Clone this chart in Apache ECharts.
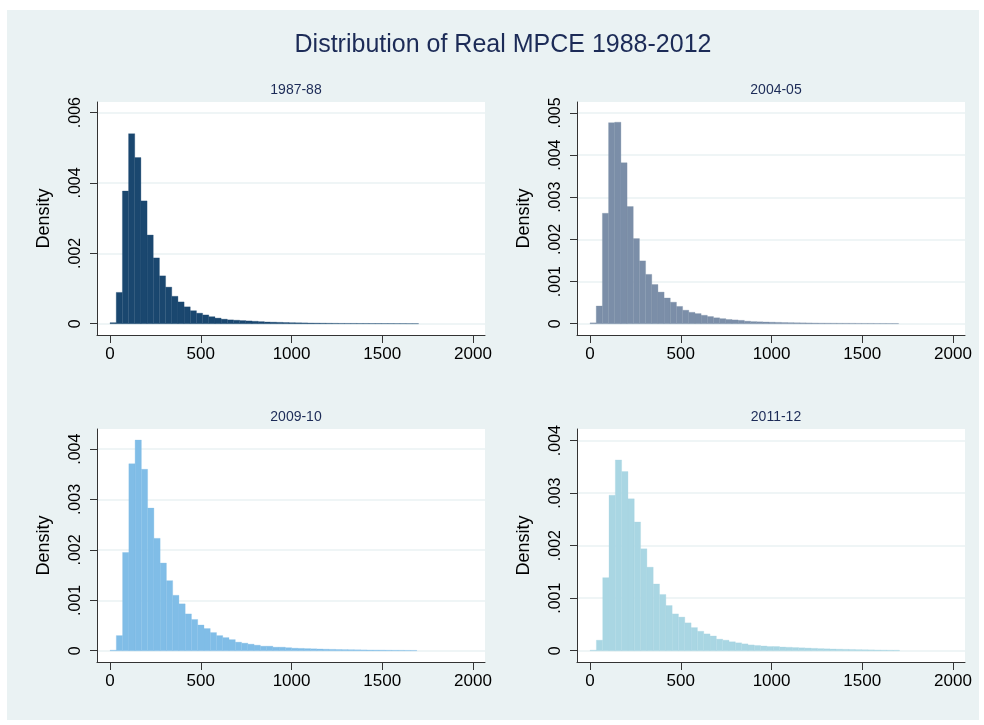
<!DOCTYPE html>
<html>
<head>
<meta charset="utf-8">
<script src="https://cdn.jsdelivr.net/npm/echarts@6/dist/echarts.min.js"></script>
<style>
  html, body { margin: 0; padding: 0; background: #ffffff; }
  #main { width: 984px; height: 725px; }
</style>
</head>
<body>
<div id="main"></div>
<script>
// histogram bins: each panel starts at 0, fixed bin width
const panelNames = ['1987-88', '2004-05', '2009-10', '2011-12'];
const binWidths = [34, 34, 34.5, 34.8];

const dens8788 = [
  0.00003, 0.00089, 0.00377, 0.0054, 0.00472, 0.00349, 0.00252, 0.00187, 0.00136, 0.00104,
  0.00078, 0.00062, 0.00048, 0.00037, 0.0003, 0.00025, 0.0002, 0.00016, 0.00013, 0.00011,
  0.0001, 0.00009, 0.00008, 0.00007, 0.00006, 0.00005, 0.000045, 0.00004, 0.000035, 0.00003,
  0.000027, 0.000024, 0.00002, 0.000018, 0.000016, 0.000014, 0.000012, 0.00001, 0.000009, 0.000009,
  0.000008, 0.000008, 0.000007, 0.000007, 0.000006, 0.000006, 0.000005, 0.000005, 0.000004, 0.000004
];
const dens0405 = [
  0.00002, 0.00042, 0.00262, 0.00477, 0.00478, 0.00382, 0.00278, 0.00202, 0.00149, 0.00117,
  0.00093, 0.00075, 0.00061, 0.00051, 0.00041, 0.00032, 0.00027, 0.00024, 0.0002, 0.00017,
  0.00014, 0.00012, 0.0001, 0.00009, 0.00008, 0.00006, 0.00005, 0.000045, 0.00004, 0.000036,
  0.000032, 0.000028, 0.000025, 0.000022, 0.00002, 0.000018, 0.000016, 0.000014, 0.000013, 0.000012,
  0.000011, 0.00001, 0.000009, 0.000008, 0.000007, 0.000007, 0.000006, 0.000006, 0.000005, 0.000005
];
const dens0910 = [
  0.00001, 0.0003, 0.00195, 0.00371, 0.00418, 0.0036, 0.00283, 0.00223, 0.00174, 0.00139,
  0.0011, 0.00093, 0.00073, 0.00062, 0.00051, 0.00044, 0.00036, 0.0003, 0.00026, 0.00022,
  0.00017, 0.00015, 0.00013, 0.00011, 0.00009, 0.00009, 0.00007, 0.00007, 0.00006, 0.00005,
  0.000046, 0.000042, 0.000038, 0.000034, 0.00003, 0.000027, 0.000024, 0.000022, 0.00002, 0.000018,
  0.000016, 0.000014, 0.000013, 0.000012, 0.00001, 0.000009, 0.000008, 0.000007, 0.000006
];
const dens1112 = [
  0.00001, 0.0002, 0.00139, 0.00296, 0.00363, 0.00341, 0.00289, 0.00245, 0.00194, 0.00159,
  0.00127, 0.00107, 0.00086, 0.0007, 0.00064, 0.00053, 0.00044, 0.00037, 0.00032, 0.00028,
  0.00022, 0.0002, 0.00017, 0.00015, 0.00013, 0.00011, 0.0001, 0.00009, 0.00008, 0.00008,
  0.00007, 0.000065, 0.00006, 0.000055, 0.00005, 0.000045, 0.00004, 0.000036, 0.000032, 0.000029,
  0.000026, 0.000023, 0.00002, 0.000018, 0.000016, 0.000014, 0.000012, 0.00001, 0.000009
];
const densities = [dens8788, dens0405, dens0910, dens1112];

const xTicks = [0, 500, 1000, 1500, 2000];
const yTicks = [
  [0, 0.002, 0.004, 0.006],
  [0, 0.001, 0.002, 0.003, 0.004, 0.005],
  [0, 0.001, 0.002, 0.003, 0.004],
  [0, 0.001, 0.002, 0.003, 0.004]
];
const yRanges = [[-0.00032, 0.0063], [-0.000268, 0.00526], [-0.000224, 0.0044], [-0.000215, 0.00422]];
const barColors = ['#1a476f', '#7b8ea8', '#80bde7', '#a9d6e3'];

const grids = [
  { left: 97, top: 102, width: 388, height: 233 },
  { left: 577, top: 102, width: 388, height: 233 },
  { left: 97, top: 429, width: 388, height: 233 },
  { left: 577, top: 429, width: 388, height: 233 }
];

function tickLabel(v) {
  if (v === 0) return '0';
  return v.toFixed(3).replace(/^0/, '');
}

const myChart = echarts.init(document.getElementById('main'));

let option = {
  backgroundColor: '#ffffff',
  animation: false,
  graphic: [{
    type: 'rect', z: -10, silent: true,
    shape: { x: 7, y: 10, width: 972, height: 710 },
    style: { fill: '#eaf2f3' }
  }].concat(grids.map(g => ({
    type: 'rect', z: -5, silent: true,
    shape: { x: g.left, y: g.top, width: g.width, height: g.height },
    style: { fill: '#ffffff' }
  }))),
  title: [{
    text: 'Distribution of Real MPCE 1988-2012',
    left: 498, top: 28, textAlign: 'center',
    textStyle: { fontFamily: 'Liberation Sans', fontSize: 25, fontWeight: 'normal', color: '#1c2b57' }
  }].concat(panelNames.map((n, i) => ({
    text: n,
    left: grids[i].left + grids[i].width / 2,
    top: grids[i].top - 24,
    textAlign: 'center',
    textStyle: { fontFamily: 'Liberation Sans', fontSize: 14, fontWeight: 'normal', color: '#1c2b57' }
  }))),
  grid: grids,
  xAxis: grids.map((g, i) => ({
    type: 'value', gridIndex: i, min: -72, max: 2066,
    axisLine: { show: true, onZero: false, lineStyle: { color: '#333', width: 1 } },
    axisTick: { show: true, length: 8, customValues: xTicks, lineStyle: { color: '#333' } },
    axisLabel: {
      customValues: xTicks, margin: 11, fontFamily: 'Liberation Sans', fontSize: 17, color: '#000',
      formatter: v => String(v)
    },
    splitLine: { show: false }
  })),
  yAxis: grids.map((g, i) => ({
    type: 'value', gridIndex: i, min: yRanges[i][0], max: yRanges[i][1],
    name: 'Density', nameLocation: 'middle', nameGap: 44,
    nameTextStyle: { fontFamily: 'Liberation Sans', fontSize: 18, color: '#000' },
    axisLine: { show: true, onZero: false, lineStyle: { color: '#333', width: 1 } },
    axisTick: { show: true, length: 7, customValues: yTicks[i], lineStyle: { color: '#333' } },
    axisLabel: {
      customValues: yTicks[i], rotate: 90, margin: 13,
      fontFamily: 'Liberation Sans', fontSize: 16, color: '#000',
      formatter: tickLabel
    },
    splitLine: { show: true, lineStyle: { color: '#eaf2f3', width: 1.5 } }
  })),
  series: densities.map((d, i) => ({
    type: 'custom',
    xAxisIndex: i,
    yAxisIndex: i,
    data: d.map((h, k) => [k * binWidths[i], (k + 1) * binWidths[i], h]),
    renderItem: function (params, api) {
      const p0 = api.coord([api.value(0), api.value(2)]);
      const p1 = api.coord([api.value(1), 0]);
      return {
        type: 'rect',
        shape: { x: p0[0], y: p0[1], width: p1[0] - p0[0], height: p1[1] - p0[1] },
        style: { fill: barColors[i], stroke: barColors[i], lineWidth: 0.3 }
      };
    }
  }))
};

myChart.setOption(option);
</script>
</body>
</html>
